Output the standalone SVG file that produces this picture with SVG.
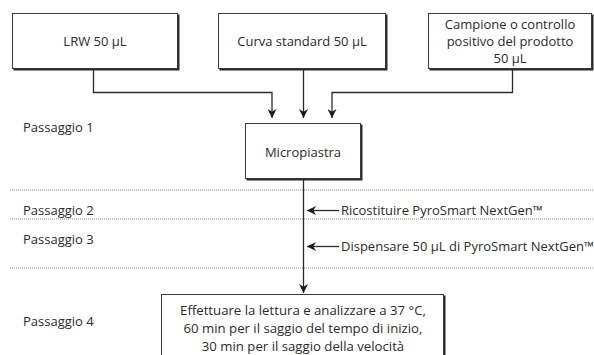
<svg xmlns="http://www.w3.org/2000/svg" width="594" height="355" viewBox="0 0 594 355">
<defs>
<style>
.box{fill:#fff;stroke:#3a3a3a;stroke-width:1}
.sh{fill:#2a2a2a}
.t{font-family:"Open Sans","Noto Sans",sans-serif;font-size:13px;fill:#2b2b2b}
.b{font-size:13.2px}
.m{text-anchor:middle}
.ln{fill:none;stroke:#2b2b2b;stroke-width:1.3}
.dot{stroke:#8a8a8a;stroke-width:1;stroke-dasharray:1 1}
</style>
<marker id="ah2" viewBox="0 0 10 10" refX="10" refY="5" markerWidth="9" markerHeight="9" markerUnits="userSpaceOnUse" orient="auto">
<path d="M0,0 L10,5 L0,10 L3,5 Z" fill="#1a1a1a"/>
</marker>
</defs>
<rect width="594" height="355" fill="#fff"/>
<g id="steps">
<line class="dot" x1="10" y1="190" x2="594" y2="190"/>
<line class="dot" x1="10" y1="219" x2="594" y2="219"/>
<line class="dot" x1="10" y1="268" x2="594" y2="268"/>
<text class="t" x="23" y="132">Passaggio 1</text>
<text class="t" x="23" y="215">Passaggio 2</text>
<text class="t" x="23" y="244">Passaggio 3</text>
<text class="t" x="23" y="326">Passaggio 4</text>
</g>
<g id="connectors">
<path class="ln" d="M93.5,69 V92.5 H272 V118" marker-end="url(#ah2)"/>
<path class="ln" d="M303.5,69 V118" marker-end="url(#ah2)"/>
<path class="ln" d="M512.5,69 V92.5 H332 V118" marker-end="url(#ah2)"/>
<path class="ln" d="M303.5,180 V293" marker-end="url(#ah2)"/>
<path class="ln" d="M339,210.5 H307" marker-end="url(#ah2)"/>
<path class="ln" d="M339,246.5 H307" marker-end="url(#ah2)"/>
</g>
<g id="n-lrw">
<rect class="sh" x="13.5" y="14.5" width="166" height="56"/>
<rect class="box" x="12.5" y="13.5" width="165" height="55"/>
<text class="t m" x="95" y="46">LRW 50 µL</text>
</g>
<g id="n-curva">
<rect class="sh" x="219.5" y="14.5" width="168" height="56"/>
<rect class="box" x="218.5" y="13.5" width="167" height="55"/>
<text class="t m" x="302" y="46">Curva standard 50 µL</text>
</g>
<g id="n-campione">
<rect class="sh" x="429.5" y="14.5" width="164" height="56"/>
<rect class="box" x="428.5" y="13.5" width="163" height="55"/>
<text class="t m" x="510" y="29">Campione o controllo</text>
<text class="t m" x="510" y="46">positivo del prodotto</text>
<text class="t m" x="510" y="63">50 µL</text>
</g>
<g id="n-micro">
<rect class="sh" x="246.5" y="124.5" width="116" height="56"/>
<rect class="box" x="245.5" y="123.5" width="115" height="55"/>
<text class="t m" x="303" y="157">Micropiastra</text>
</g>
<g id="labels">
<text class="t" x="341" y="215">Ricostituire PyroSmart NextGen™</text>
<text class="t" x="341" y="251">Dispensare 50 µL di PyroSmart NextGen™</text>
</g>
<g id="n-lettura">
<rect class="sh" x="162.5" y="295.5" width="283" height="70"/>
<rect class="box" x="161.5" y="294.5" width="282" height="70"/>
<text class="t b m" x="303" y="315">Effettuare la lettura e analizzare a 37 °C,</text>
<text class="t b m" x="303" y="333">60 min per il saggio del tempo di inizio,</text>
<text class="t b m" x="303" y="351">30 min per il saggio della velocità</text>
</g>
</svg>
